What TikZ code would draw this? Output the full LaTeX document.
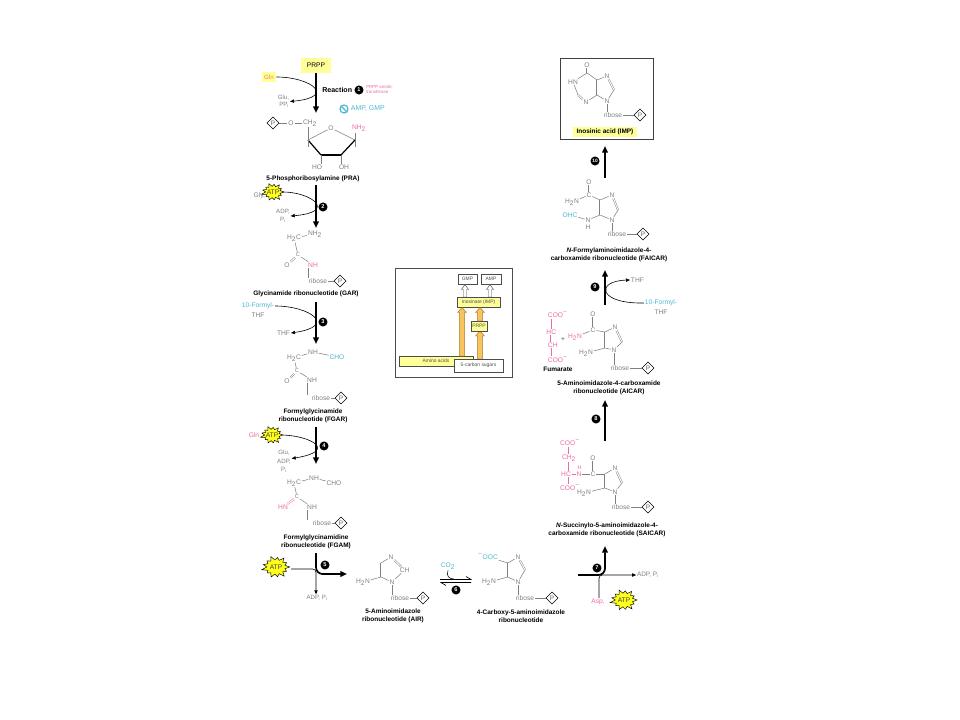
\documentclass[tikz,border=0pt]{standalone}
\usepackage{fontspec}
\setmainfont{Liberation Sans}
\usetikzlibrary{arrows.meta,shapes.geometric,calc}
\definecolor{cg}{HTML}{808080}
\definecolor{pk}{HTML}{EE6AA7}
\definecolor{cy}{HTML}{4DB8D2}
\definecolor{lyel}{HTML}{FFFF99}
\definecolor{byel}{HTML}{FFFF1A}
\definecolor{glnc}{HTML}{F0805A}
\definecolor{org}{HTML}{F8C45E}
\definecolor{orgd}{HTML}{A87420}
\tikzset{
  chem/.style={font=\fontsize{5}{5.5}\selectfont, text=cg, inner sep=0.5pt},
  chemp/.style={chem, text=pk},
  chemc/.style={chem, text=cy},
  smallc/.style={chem, font=\fontsize{4.2}{4.5}\selectfont},
  lbl/.style={font=\bfseries\fontsize{4.85}{6}\selectfont, align=center, inner sep=0.5pt, text=black},
  bond/.style={draw=cg, line width=0.4pt},
  pbond/.style={draw=pk, line width=0.4pt},
  dbl/.style={double=white, double distance=0.75pt, line width=0.35pt},
  pdia/.style={diamond, draw=black, line width=0.45pt, inner sep=0pt, minimum size=9.2pt, font=\fontsize{4.8}{5}\selectfont, text=black!65, fill=white},
  stepno/.style={circle, fill=black, text=white, font=\bfseries\fontsize{4.2}{5}\selectfont, inner sep=0pt, minimum size=6.8pt},
  mainarr/.style={draw=black, line width=1.3pt, -{Triangle[length=5pt,width=4.2pt]}},
  sidearr/.style={draw=black, line width=0.45pt, -{Triangle[length=3pt,width=2.5pt]}},
  ybox/.style={fill=lyel, inner sep=0pt, font=\fontsize{5}{6}\selectfont},
  ibox/.style={draw=black!70, line width=0.35pt, inner sep=0pt, font=\fontsize{3.7}{4}\selectfont, text=black!70},
  atp/.pic={
    \filldraw[fill=byel, draw=black, line width=0.35pt] (0:11 and 8.5)
      \foreach \i/\f in {0/0.86,1/1.05,2/0.92,3/1.0,4/0.84,5/1.08,6/0.95,7/0.88,8/1.04,9/0.9,10/1.02,11/0.87,12/1.0} { -- ({\i*27.69+13.85}:7.3 and 5.7) -- ({(\i+1)*27.69}:{11*\f} and {8.5*\f}) } -- cycle;
    \node[font=\fontsize{5}{5}\selectfont, text=black!75, inner sep=0pt] at (0,0) {ATP};
  },
}
\newcommand\fatarrow[6]{%
  \filldraw[fill=#4, draw=#5, line width=0.35pt] (#1-#6,#2) -- (#1-#6,#3+5) -- (#1-#6-2,#3+5) -- (#1,#3) -- (#1+#6+2,#3+5) -- (#1+#6,#3+5) -- (#1+#6,#2) -- cycle;}
\begin{document}
\begin{tikzpicture}[x=0.75pt,y=-0.75pt]
\useasboundingbox (0,0) rectangle (960,720);
\fill[white] (0,0) rectangle (960,720);

% ================= Step 1
\node[ybox, minimum width=23pt, minimum height=11pt] (prpp) at (316,65.5) {PRPP};
\node[ybox, minimum width=10.7pt, minimum height=7.5pt, text=glnc, font=\fontsize{4.6}{5}\selectfont] (gln) at (269,77) {Gln};
\coordinate (a1e) at (316,113);
\draw[mainarr] (prpp.south) -- (a1e);
\node[chem, align=right, anchor=east, font=\fontsize{4.6}{5.2}\selectfont] (glupp) at (290,101.5) {Glu,\\PP\textsubscript{i}};
\draw[sidearr] (gln.east) .. controls (311,77) and (337,97) .. (glupp.east);
\node[font=\bfseries\fontsize{5.3}{6}\selectfont, anchor=west, inner sep=0pt] (react) at (322,90) {Reaction};
\node[stepno] (s1) at (359,90) {1};
\node[font=\fontsize{3.3}{3.9}\selectfont, text=pk, align=left, anchor=west, inner sep=0pt] (enz) at (366,89.5) {PRPP amido-\\transferase};
\node[circle, draw=cy, line width=0.9pt, minimum size=6pt, inner sep=0pt] (inh) at (344,109) {};
\draw[cy, line width=0.9pt] (inh.north west) -- (inh.south east);
\node[chemc, anchor=west, font=\fontsize{5.2}{6}\selectfont] (ampgmp) at (350,109) {AMP, GMP};

% PRA
\node[pdia] (p1) at (273,123) {P};
\node[chem] (o1) at (291,123) {O};
\node[chem] (ch2a) at (310,123) {CH\textsubscript{2}};
\draw[bond] (p1) -- (o1);
\draw[bond] (o1) -- (ch2a);
\coordinate (r1c4) at (308,140);
\node[chem] (r1o) at (331,128) {O};
\coordinate (r1c1) at (355,140);
\coordinate (r1c3) at (321,155);
\coordinate (r1c2) at (341,155);
\draw[bond] (r1c4) -- (r1o);
\draw[bond] (r1o) -- (r1c1);
\draw[line width=0.9pt] (r1c4) -- (r1c3);
\draw[line width=1.9pt] (r1c3) -- (r1c2);
\draw[line width=0.9pt] (r1c2) -- (r1c1);
\draw[bond] (ch2a.south -| r1c4) -- ($(r1c4)+(0,7)$);
\node[chemp] (nh2a) at (359,128.5) {NH\textsubscript{2}};
\draw[bond] (nh2a.south -| r1c1) -- ($(r1c1)+(0,7)$);
\node[chem] (ho) at (317,167) {HO};
\node[chem] (oh) at (344,167) {OH};
\draw[bond] (r1c3) -- (r1c3 |- ho.north);
\draw[bond] (r1c2) -- (r1c2 |- oh.north);
\node[lbl] (pra) at (313,178.5) {5-Phosphoribosylamine (PRA)};

% ================= Step 2
\coordinate (a2s) at (316,185); \coordinate (a2e) at (316,228);
\draw[mainarr] (a2s) -- (a2e);
\node[chem, anchor=east] (gly) at (266,196) {Gly,};
\pic at (273,192) {atp};
\coordinate (atp2) at (283,192);
\node[chem, align=center, font=\fontsize{4.6}{6}\selectfont] (adp2) at (283,216) {ADP,\\P\textsubscript{i}};
\draw[sidearr] (atp2) .. controls (311,192) and (338,212) .. (adp2.east);
\node[stepno] (s2) at (323,207) {2};

% GAR
\node[chem] (g_h2c) at (294,238) {H\textsubscript{2}C};
\node[chem] (g_nh2) at (315,234) {NH\textsubscript{2}};
\node[smallc] (g_c) at (298,255) {C};
\node[chem] (g_o) at (287,265) {O};
\node[chemp] (g_nh) at (313,265) {NH};
\node[chem] (g_rib) at (318,281) {ribose};
\node[pdia] (g_p) at (340,281) {P};
\draw[bond] (g_h2c) -- (g_nh2);
\draw[bond] (g_h2c) -- (g_c);
\draw[bond,dbl] (g_c) -- (g_o);
\draw[bond] (g_c) -- (g_nh);
\draw[bond] ($(g_nh.south west)+(1,0)$) -- ($(g_nh.south west |- g_rib.north)+(1,0)$);
\draw[bond] (g_rib) -- (g_p);
\node[lbl] (gar) at (306,294) {Glycinamide ribonucleotide (GAR)};

% ================= Step 3
\coordinate (a3s) at (316,302); \coordinate (a3e) at (316,344);
\draw[mainarr] (a3s) -- (a3e);
\node[chemc] (tf3a) at (258,306) {10-Formyl-};
\node[chem] (tf3b) at (258,315) {THF};
\node[chem, anchor=east] (thf3) at (291,333) {THF};
\draw[sidearr] (tf3a.east) .. controls (310,306) and (338,326) .. (thf3.east);
\node[stepno] (s3) at (323,322) {3};

% FGAR
\node[chem] (f_h2c) at (294,358) {H\textsubscript{2}C};
\node[chem] (f_nh1) at (313,352) {NH};
\node[chemc] (f_cho) at (337,357) {CHO};
\node[smallc] (f_c) at (297,371) {C};
\node[chem] (f_o) at (287,381) {O};
\node[chem] (f_nh2) at (312,380) {NH};
\node[chem] (f_rib) at (321,398) {ribose};
\node[pdia] (f_p) at (341,398) {P};
\draw[bond] (f_h2c) -- (f_nh1);
\draw[bond] (f_nh1) -- (f_cho);
\draw[bond] (f_h2c) -- (f_c);
\draw[bond,dbl] (f_c) -- (f_o);
\draw[bond] (f_c) -- (f_nh2);
\draw[bond] ($(f_nh2.south west)+(1,0)$) -- ($(f_nh2.south west |- f_rib.north)+(1,0)$);
\draw[bond] (f_rib) -- (f_p);
\node[lbl] (fgar) at (313,416) {Formylglycinamide\\ribonucleotide (FGAR)};

% ================= Step 4
\coordinate (a4s) at (316,427); \coordinate (a4e) at (316,464);
\draw[mainarr] (a4s) -- (a4e);
\node[chemp] (gln4) at (254,435) {Gln};
\pic at (272,435) {atp};
\coordinate (atp4) at (283,435);
\node[chem, align=center, font=\fontsize{4.6}{6.4}\selectfont] (glu4) at (284,461.5) {Glu,\\ADP,\\P\textsubscript{i}};
\draw[sidearr] (atp4) .. controls (311,436) and (338,451) .. ($(glu4.east)+(0,-3)$);
\node[stepno] (s4) at (324,446) {4};

% FGAM
\node[chem] (m_h2c) at (294,483) {H\textsubscript{2}C};
\node[chem] (m_nh1) at (314,478) {NH};
\node[chem] (m_cho) at (334,483) {CHO};
\node[smallc] (m_c) at (297,497) {C};
\node[chemp] (m_hn) at (283,507) {HN};
\node[chem] (m_nh2) at (312,507) {NH};
\node[chem] (m_rib) at (322,523) {ribose};
\node[pdia] (m_p) at (341,523) {P};
\draw[bond] (m_h2c) -- (m_nh1);
\draw[bond] (m_nh1) -- (m_cho);
\draw[bond] (m_h2c) -- (m_c);
\draw[pbond,dbl] (m_c) -- (m_hn);
\draw[bond] (m_c) -- (m_nh2);
\draw[bond] ($(m_nh2.south west)+(1,0)$) -- ($(m_nh2.south west |- m_rib.north)+(1,0)$);
\draw[bond] (m_rib) -- (m_p);
\node[lbl] (fgam) at (316,541.5) {Formylglycinamidine\\ribonucleotide (FGAM)};

% ================= Step 5
\pic[scale=1.25] at (276,567) {atp};
\coordinate (atp5) at (291,569);
\coordinate (j5) at (316,569);
\node[chem, font=\fontsize{4.6}{5}\selectfont] (adp5) at (317,598) {ADP, P\textsubscript{i}};
\draw[sidearr, rounded corners=2.5pt] (atp5) -- (j5) -- (adp5.north -| j5);
\coordinate (a5s) at (316,553); \coordinate (a5c) at (316,574); \coordinate (a5e) at (347,574);
\draw[mainarr, rounded corners=5pt] (a5s) -- (a5c) -- (a5e);
\node[stepno] (s5) at (325,565) {5};

% AIR
\coordinate (air4) at (381,563);
\node[chem] (air3) at (391,557) {N};
\node[chem, anchor=west] (air2) at (399,570) {CH};
\node[chem] (air1) at (392,582) {N};
\coordinate (air5) at (381,577);
\draw[bond] (air4) -- (air3);
\draw[bond,dbl] (air3) -- (air2);
\draw[bond] (air2) -- (air1);
\draw[bond] (air1) -- (air5);
\draw[bond,dbl] (air5) -- (air4);
\node[chem] (air_nh2) at (363,582) {H\textsubscript{2}N};
\draw[bond] (air5) -- (air_nh2);
\node[chem] (air_rib) at (400,598) {ribose};
\node[pdia] (air_p) at (423,598) {P};
\draw[bond] (air1) -- (air1 |- air_rib.north);
\draw[bond] (air_rib) -- (air_p);
\node[lbl] (air) at (393,616) {5-Aminoimidazole\\ribonucleotide (AIR)};

% ================= Step 6
\node[chemc] (co2) at (448,566) {CO\textsubscript{2}};
\coordinate (co2e) at (454,579);
\draw[line width=0.4pt] (co2.south) .. controls (446,576) and (449,579) .. (co2e);
\coordinate (e1a) at (440,579.5); \coordinate (e1b) at (471,579.5);
\coordinate (e2a) at (471,582.5); \coordinate (e2b) at (441,582.5);
\draw[line width=0.5pt] (e1a) -- (e1b) -- ($(e1b)+(-5,-3)$);
\draw[line width=0.5pt] (e2a) -- (e2b) -- ($(e2b)+(5,3)$);
\node[stepno] (s6) at (456,590) {6};

% CAIR
\coordinate (ca4) at (508,563);
\node[chem] (ca3) at (518,557) {N};
\coordinate (ca2) at (525,570);
\node[chem] (ca1) at (518,582) {N};
\coordinate (ca5) at (508,577);
\draw[bond] (ca4) -- (ca3);
\draw[bond,dbl] (ca3) -- (ca2);
\draw[bond] (ca2) -- (ca1);
\draw[bond] (ca1) -- (ca5);
\draw[bond,dbl] (ca5) -- (ca4);
\node[chemc] (cacoo) at (488,557) {\textsuperscript{−}OOC};
\node[chem] (canh2) at (489,582) {H\textsubscript{2}N};
\draw[bond] (ca4) -- (cacoo);
\draw[bond] (ca5) -- (canh2);
\node[chem] (ca_rib) at (525,598) {ribose};
\node[pdia] (ca_p) at (552,598) {P};
\draw[bond] (ca1) -- (ca1 |- ca_rib.north);
\draw[bond] (ca_rib) -- (ca_p);
\node[lbl] (cair) at (521,616) {4-Carboxy-5-aminoimidazole\\ribonucleotide};

% ================= Step 7
\coordinate (a7s) at (578,575); \coordinate (a7c) at (605,575); \coordinate (a7e) at (605,546);
\draw[mainarr, rounded corners=5pt] (a7s) -- (a7c) -- (a7e);
\node[chemp] (asp) at (598,602) {Asp,};
\node[chem, font=\fontsize{4.8}{5}\selectfont] (adp7) at (648,575) {ADP, P\textsubscript{i}};
\coordinate (j7) at (599,575);
\draw[sidearr, rounded corners=2.5pt] (asp.north -| j7) -- (j7) -- (adp7.west);
\pic[scale=1.2] at (624,600) {atp};
\node[stepno] (s7) at (597,568) {7};

% SAICAR
\coordinate (sa4) at (605,474);
\node[chem] (sa3) at (615,468) {N};
\coordinate (sa2) at (622,483);
\node[chem] (sa1) at (615,492) {N};
\coordinate (sa5) at (605,488);
\draw[bond] (sa4) -- (sa3);
\draw[bond,dbl] (sa3) -- (sa2);
\draw[bond] (sa2) -- (sa1);
\draw[bond] (sa1) -- (sa5);
\draw[bond,dbl] (sa5) -- (sa4);
\node[chem] (sac) at (593,474) {C};
\node[chem] (sao) at (593,458) {O};
\draw[bond,dbl] (sac) -- (sao);
\draw[bond] (sac) -- (sa4);
\node[chemp] (san) at (579,474) {N};
\node[chemp, font=\fontsize{4}{4}\selectfont] (sanh) at (579.5,467.5) {H};
\draw[bond] (san) -- (sac);
\node[chemp] (sahc) at (566,474) {HC};
\draw[pbond] (sahc) -- (san);
\node[chemp] (sach2) at (569,458) {CH\textsubscript{2}};
\node[chemp] (sacoo1) at (570,443) {COO\textsuperscript{−}};
\node[chemp] (sacoo2) at (570,488) {COO\textsuperscript{−}};
\coordinate (sax) at (568,0);
\draw[pbond] (sacoo1.south -| sax) -- (sach2.north -| sax);
\draw[pbond] (sach2.south -| sax) -- (sahc.north -| sax);
\draw[pbond] (sahc.south -| sax) -- (sacoo2.north -| sax);
\node[chem] (sanh2) at (584,493) {H\textsubscript{2}N};
\draw[bond] (sa5) -- (sanh2);
\node[chem] (sa_rib) at (621,507) {ribose};
\node[pdia] (sa_p) at (648,507) {P};
\draw[bond] (sa1) -- (sa1 |- sa_rib.north);
\draw[bond] (sa_rib) -- (sa_p);
\node[lbl] (saicar) at (607,530) {\textit{N}-Succinylo-5-aminoimidazole-4-\\carboxamide ribonucleotide (SAICAR)};

% ================= Step 8
\coordinate (a8s) at (605,441); \coordinate (a8e) at (605,400);
\draw[mainarr] (a8s) -- (a8e);
\node[stepno] (s8) at (596,419) {8};

% AICAR
\coordinate (ai4) at (605,332);
\node[chem] (ai3) at (615,327) {N};
\coordinate (ai2) at (622,342);
\node[chem] (ai1) at (614,350) {N};
\coordinate (ai5) at (605,348);
\draw[bond] (ai4) -- (ai3);
\draw[bond,dbl] (ai3) -- (ai2);
\draw[bond] (ai2) -- (ai1);
\draw[bond] (ai1) -- (ai5);
\draw[bond,dbl] (ai5) -- (ai4);
\node[chem] (aic) at (593,330) {C};
\node[chem] (aio) at (593,314) {O};
\draw[bond,dbl] (aic) -- (aio);
\draw[bond] (aic) -- (ai4);
\node[chemp] (ainh2a) at (575,337) {H\textsubscript{2}N};
\draw[bond] (aic) -- (ainh2a);
\node[chem] (ainh2b) at (586,353) {H\textsubscript{2}N};
\draw[bond] (ai5) -- (ainh2b);
\node[chem] (ai_rib) at (620,368) {ribose};
\node[pdia] (ai_p) at (648,368) {P};
\draw[bond] (ai1) -- (ai1 |- ai_rib.north);
\draw[bond] (ai_rib) -- (ai_p);
% Fumarate
\node[chemp, anchor=west] (fu1) at (547,315) {COO\textsuperscript{−}};
\node[chemp, anchor=west] (fu2) at (545.5,332) {HC};
\node[chemp, anchor=west] (fu3) at (547,345) {CH};
\node[chemp, anchor=west] (fu4) at (547,360) {COO\textsuperscript{−}};
\coordinate (fux) at (551,0);
\draw[pbond] (fu1.south -| fux) -- (fu2.north -| fux);
\draw[pbond,dbl] (fu2.south -| fux) -- (fu3.north -| fux);
\draw[pbond] (fu3.south -| fux) -- (fu4.north -| fux);
\node[chem, text=black!70] (plus) at (563,340) {+};
\node[lbl] (fum) at (558,369) {Fumarate};
\node[lbl] (aicar) at (609,388) {5-Aminoimidazole-4-carboxamide\\ribonucleotide (AICAR)};

% ================= Step 9
\coordinate (a9s) at (605,305); \coordinate (a9e) at (605,270);
\draw[mainarr] (a9s) -- (a9e);
\node[stepno] (s9) at (595,287) {9};
\node[chemc] (tf9a) at (661,303) {10-Formyl-};
\node[chem] (tf9b) at (661,312) {THF};
\node[chem, anchor=west] (thf9) at (630,280) {THF};
\draw[sidearr] (tf9a.west) .. controls (598,304) and (595,281) .. (thf9.west);

% FAICAR
\coordinate (fa4) at (600,200);
\node[chem] (fa3) at (612,195) {N};
\coordinate (fa2) at (618,210);
\node[chem] (fa1) at (612,220) {N};
\coordinate (fa5) at (600,215);
\draw[bond] (fa4) -- (fa3);
\draw[bond,dbl] (fa3) -- (fa2);
\draw[bond] (fa2) -- (fa1);
\draw[bond] (fa1) -- (fa5);
\draw[bond,dbl] (fa5) -- (fa4);
\node[chem] (fac) at (589,195) {C};
\node[chem] (fao) at (589,182) {O};
\draw[bond,dbl] (fac) -- (fao);
\draw[bond] (fac) -- (fa4);
\node[chem] (fanh2) at (572,202) {H\textsubscript{2}N};
\draw[bond] (fac) -- (fanh2);
\node[chem] (fan) at (588,220) {N};
\node[chem] (fah) at (588,227) {H};
\node[chemc] (faohc) at (570,215) {OHC};
\draw[bond] (fan) -- (fa5);
\draw[bond] (faohc) -- (fan);
\node[chem] (fa_rib) at (617,234) {ribose};
\node[pdia] (fa_p) at (643,234) {P};
\draw[bond] (fa1) -- (fa1 |- fa_rib.north);
\draw[bond] (fa_rib) -- (fa_p);
\node[lbl] (faicar) at (609,254.5) {\textit{N}-Formylaminoimidazole-4-\\carboxamide ribonucleotide (FAICAR)};

% ================= Step 10
\coordinate (a10s) at (605,178); \coordinate (a10e) at (605,146);
\draw[mainarr] (a10s) -- (a10e);
\node[stepno, font=\bfseries\fontsize{3.6}{4}\selectfont] (s10) at (595,161) {10};

% IMP
\draw[black!75, line width=0.5pt] (560,58) rectangle (653,139);
\node[chem] (io) at (587,65) {O};
\coordinate (ic6) at (587,73);
\node[chem] (in1) at (573,82) {HN};
\coordinate (ic2) at (578,95);
\node[chem] (in3) at (586,102) {N};
\coordinate (ic4) at (597,95);
\coordinate (ic5) at (597,80);
\node[chem] (in7) at (607,76) {N};
\coordinate (ic8) at (614,90);
\node[chem] (in9) at (607,101) {N};
\draw[bond,dbl] (ic6) -- (io);
\draw[bond] (ic6) -- (in1);
\draw[bond] (in1) -- (ic2);
\draw[bond,dbl] (ic2) -- (in3);
\draw[bond] (in3) -- (ic4);
\draw[bond,dbl] (ic4) -- (ic5);
\draw[bond] (ic5) -- (ic6);
\draw[bond] (ic5) -- (in7);
\draw[bond,dbl] (in7) -- (ic8);
\draw[bond] (ic8) -- (in9);
\draw[bond] (in9) -- (ic4);
\node[chem] (i_rib) at (613,115) {ribose};
\node[pdia] (i_p) at (640,115) {P};
\draw[bond] (in9) -- (in9 |- i_rib.north);
\draw[bond] (i_rib) -- (i_p);
\node[lbl, fill=lyel, inner xsep=2.7pt, inner ysep=1.2pt] (imp) at (605,132) {Inosinic acid (IMP)};

% ================= Inset
\draw[black!70, fill=white, line width=0.5pt] (395,268) rectangle (512,377);
\node[ibox, minimum width=14.3pt, minimum height=7.5pt] (gmp) at (467.5,279) {GMP};
\node[ibox, minimum width=15pt, minimum height=7.5pt] (amp) at (491,279) {AMP};
\fatarrow{465}{297}{284.5}{white}{black!70}{1.5}
\fatarrow{490}{297}{284.5}{white}{black!70}{1.5}
\node[ibox, fill=lyel, minimum width=32pt, minimum height=7.5pt] (inos) at (478.5,302) {Inosinate (IMP)};
\node[ibox, fill=lyel, minimum width=55.5pt, minimum height=7.5pt] (amino) at (436,361) {Amino acids};
\fatarrow{462}{356}{307.5}{org}{orgd}{2.4}
\fatarrow{480}{321}{307.5}{org}{orgd}{2.4}
\fatarrow{480}{359}{331}{org}{orgd}{2.4}
\node[ibox, fill=lyel, minimum width=12pt, minimum height=7.5pt] (iprpp) at (479,326) {PRPP};
\node[ibox, fill=white, minimum width=37pt, minimum height=9.5pt] (sugars) at (478.5,365.5) {5-carbon sugars};
\end{tikzpicture}
\end{document}
